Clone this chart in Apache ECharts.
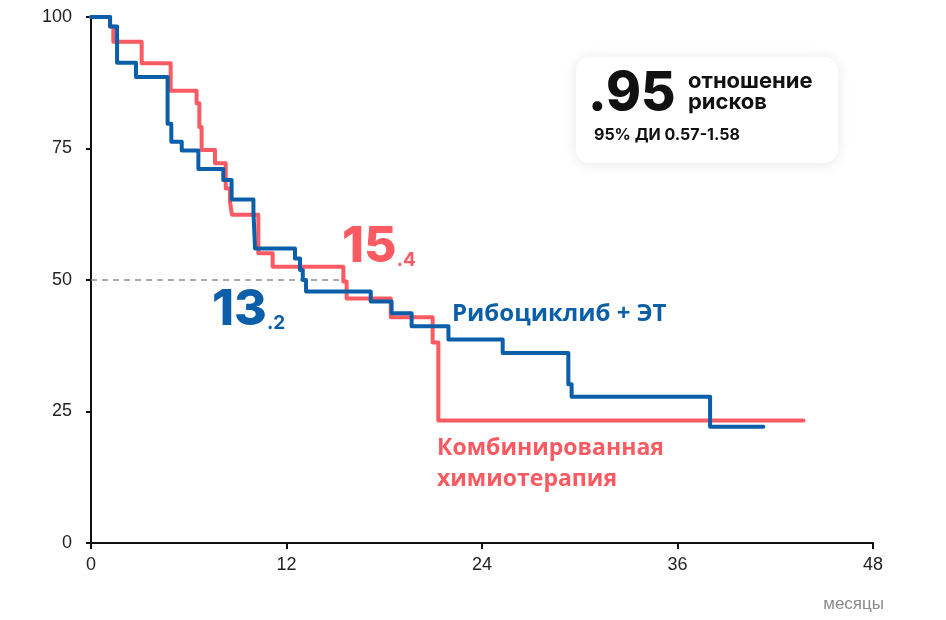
<!DOCTYPE html>
<html>
<head>
<meta charset="utf-8">
<script src="https://cdn.jsdelivr.net/npm/echarts@6/dist/echarts.min.js"></script>
<style>
  html, body { margin: 0; padding: 0; background: #fff; }
  #main { width: 946px; height: 620px; }
</style>
</head>
<body>
<div id="main"></div>
<script>
// кривые Каплана-Мейера: [месяц, % без прогрессии]
const riboTimes = [0, 1.17, 1.6, 2.76, 4.7, 4.93, 5.57, 6.59, 8.12, 8.63, 9.97, 10.07, 12.52, 12.83, 13.0, 13.2, 17.17, 18.45, 19.68, 21.94, 25.27, 29.3, 29.5, 38.0, 41.27];
const riboValues = [100, 98.2, 91.3, 88.6, 79.7, 76.3, 74.6, 71.1, 69.0, 65.3, 63.0, 56.0, 54.1, 51.9, 50.0, 47.8, 45.9, 43.7, 41.2, 38.7, 36.1, 30.2, 27.8, 22.1, 22.1];

const chemoTimes = [0, 1.17, 1.37, 3.11, 4.89, 6.48, 6.65, 6.79, 7.61, 8.27, 8.53, 8.65, 10.27, 11.15, 15.49, 15.69, 18.4, 20.97, 21.32, 43.73];
const chemoValues = [100, 98.2, 95.3, 91.2, 86.0, 83.6, 79.1, 74.7, 72.2, 67.4, 64.9, 62.4, 55.1, 52.5, 49.7, 46.5, 42.9, 38.1, 23.3, 23.3];

// медиана
const medianLevel = 50;
const medianEnd = 15.4;

const xTicks = [0, 12, 24, 36, 48];
const yTicks = [0, 25, 50, 75, 100];

const BLUE = '#0B5EA8';
const RED = '#FA5A61';

const zip = (xs, ys) => xs.map((x, i) => [x, ys[i]]);

const chart = echarts.init(document.getElementById('main'));

chart.setOption({
  animation: false,
  grid: { left: 91, right: 73, top: 17, bottom: 77 },
  xAxis: {
    type: 'value',
    min: xTicks[0],
    max: xTicks[xTicks.length - 1],
    interval: 12,
    splitLine: { show: false },
    axisLine: { show: true, lineStyle: { color: '#111', width: 2 } },
    axisTick: { show: true, length: 6, lineStyle: { color: '#111', width: 2 } },
    axisLabel: { color: '#222', fontSize: 18, margin: 13, fontFamily: 'Liberation Sans' }
  },
  yAxis: {
    type: 'value',
    min: yTicks[0],
    max: yTicks[yTicks.length - 1],
    interval: 25,
    splitLine: { show: false },
    axisLine: { show: true, lineStyle: { color: '#111', width: 2 } },
    axisTick: { show: true, length: 5, lineStyle: { color: '#111', width: 2 } },
    axisLabel: { color: '#222', fontSize: 18, margin: 19, fontFamily: 'Liberation Sans' }
  },
  series: [
    {
      name: 'median',
      type: 'line',
      data: [[0, medianLevel], [medianEnd, medianLevel]],
      symbol: 'none',
      lineStyle: { color: '#8c8c8c', width: 1.6, type: [6, 5] },
      z: 1
    },
    {
      name: 'Комбинированная химиотерапия',
      type: 'line',
      step: 'end',
      data: zip(chemoTimes, chemoValues),
      symbol: 'none',
      lineStyle: { color: RED, width: 4, cap: 'round', join: 'round' },
      z: 2
    },
    {
      name: 'Рибоциклиб + ЭТ',
      type: 'line',
      step: 'end',
      data: zip(riboTimes, riboValues),
      symbol: 'none',
      lineStyle: { color: BLUE, width: 4, cap: 'round', join: 'round' },
      z: 3
    }
  ],
  graphic: [
    // карточка с отношением рисков
    {
      type: 'rect',
      shape: { x: 576, y: 57, width: 262, height: 106, r: 14 },
      style: { fill: '#fff', shadowBlur: 14, shadowColor: 'rgba(0,0,0,0.10)', shadowOffsetY: 1 },
      z: 10
    },
    {
      type: 'text', x: 588, y: 121, z: 11,
      style: { text: '.95', font: '800 53px Inter', letterSpacing: -2, fill: '#111', verticalAlign: 'bottom' }
    },
    {
      type: 'text', x: 688, y: 71, z: 11,
      style: { text: 'отношение\nрисков', font: 'bold 22px Inter', lineHeight: 21, fill: '#111' }
    },
    {
      type: 'text', x: 594, y: 127, z: 11,
      style: { text: '95% ДИ 0.57-1.58', font: 'bold 16px Inter', fill: '#111' }
    },
    // медианы
    {
      type: 'text', x: 212, y: 335, z: 11,
      style: {
        text: '{a|13}{b|.2}',
        verticalAlign: 'bottom',
        rich: {
          a: { font: '800 50px Inter', fill: BLUE, letterSpacing: -3, verticalAlign: 'bottom' },
          b: { font: 'bold 19px Inter', fill: BLUE, verticalAlign: 'bottom', padding: [0, 0, 2, 0] }
        }
      }
    },
    {
      type: 'text', x: 342, y: 272, z: 11,
      style: {
        text: '{a|15}{b|.4}',
        verticalAlign: 'bottom',
        rich: {
          a: { font: '800 50px Inter', fill: RED, letterSpacing: -3, verticalAlign: 'bottom' },
          b: { font: 'bold 19px Inter', fill: RED, verticalAlign: 'bottom', padding: [0, 0, 2, 0] }
        }
      }
    },
    // подписи кривых
    {
      type: 'text', x: 452, y: 302, z: 11,
      style: { text: 'Рибоциклиб + ЭТ', font: 'bold 24px "Open Sans"', fill: BLUE }
    },
    {
      type: 'text', x: 437, y: 433, z: 11,
      style: { text: 'Комбинированная\nхимиотерапия', font: 'bold 23px "Open Sans"', lineHeight: 31, fill: RED }
    },
    {
      type: 'text', x: 884, y: 596, z: 11,
      style: { text: 'месяцы', font: '17px "Liberation Sans"', fill: '#8a8a8a', align: 'right' }
    }
  ]
});
</script>
</body>
</html>
